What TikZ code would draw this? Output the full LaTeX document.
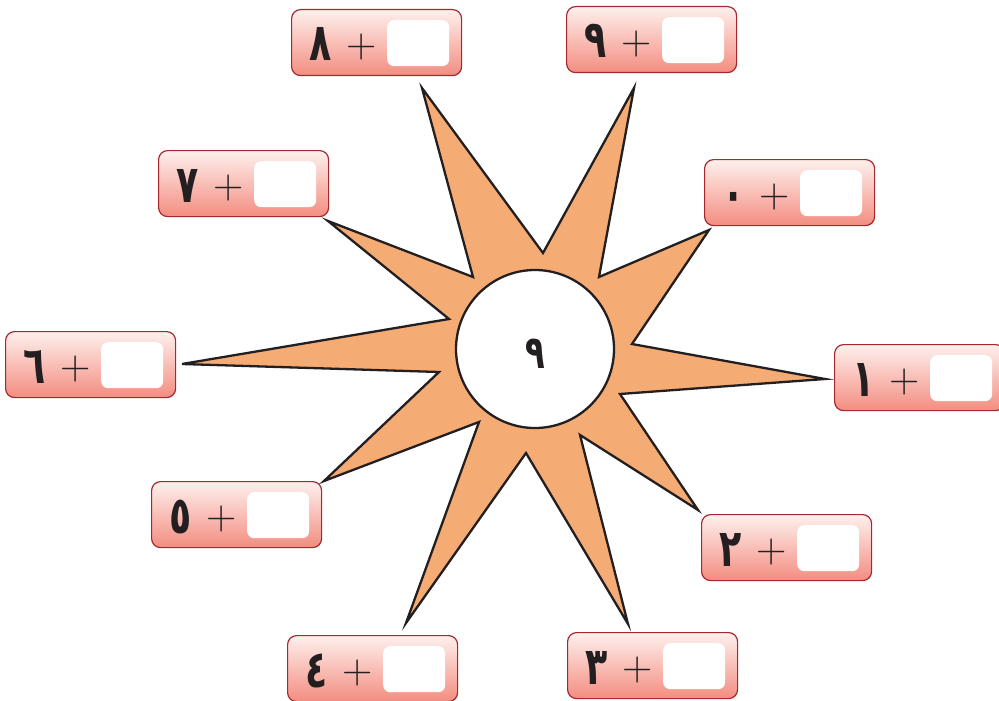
\documentclass[tikz,border=0pt]{standalone}
\usepackage{fontspec}
\TeXXeTstate=1
\newfontfamily\arabicbold[Script=Arabic, FakeStretch=0.7]{DejaVu Sans Bold}
\definecolor{starfill}{RGB}{245,171,116}
\definecolor{boxtop}{RGB}{254,240,237}
\definecolor{boxbottom}{RGB}{243,141,128}
\definecolor{boxborder}{RGB}{165,40,46}
\definecolor{ink}{RGB}{35,31,32}
\tikzset{
  answerbox/.style={draw=boxborder, line width=1.2pt, rounded corners=9pt,
    top color=boxtop, bottom color=boxbottom, minimum width=170pt,
    minimum height=66pt, inner sep=0pt, anchor=north west},
  blankbox/.style={fill=white, rounded corners=7pt, minimum width=62pt,
    minimum height=46pt, inner sep=0pt, anchor=north west},
  digitlabel/.style={font=\arabicbold\fontsize{52}{52}\selectfont, text=ink,
    anchor=base, inner sep=0pt},
  plussign/.style={font=\fontsize{42}{42}\selectfont, text=ink, inner sep=0pt},
  startshape/.style={fill=starfill, draw=ink, line width=2.3pt, line join=miter},
  hubcircle/.style={circle, draw=ink, fill=white, line width=2.3pt,
    minimum size=158pt, inner sep=0pt}
}
\begin{document}
\begin{tikzpicture}[x=1pt,y=-1pt]
\useasboundingbox (0,0) rectangle (999,701);
% star
\draw[startshape] (422,88) -- (543,253) -- (634,88) -- (599,277) -- (709,230)
  -- (632,344) -- (825,379) -- (620,394) -- (698,510) -- (580,435)
  -- (628,624) -- (526,453) -- (406,623) -- (479,422) -- (324,481)
  -- (439,372) -- (182,364) -- (449,319) -- (328,221) -- (473,277) -- cycle;
\node[hubcircle] (hub) at (535,349) {};
\node[digitlabel, font=\arabicbold\fontsize{46}{46}\selectfont] (hubdigit) at (535,368) {\beginR ٩\endR};
% boxes
\foreach \n/\l/\t/\d in {8/291/9/٨, 9/566/6/٩, 7/158/150/٧, 0/704/159/٠,
  6/5/331/٦, 1/834/344/١, 5/151/481/٥, 2/701/514/٢, 4/287/635/٤, 3/567/632/٣}{
  \node[answerbox] (box\n) at (\l,\t) {};
  \node[blankbox] (blank\n) at (\l+96,\t+11) {};
  \node[digitlabel] (digit\n) at (\l+30,\t+52) {\beginR\d\endR};
  \node[plussign] (plus\n) at (\l+71,\t+38) {+};
}
\end{tikzpicture}
\end{document}
